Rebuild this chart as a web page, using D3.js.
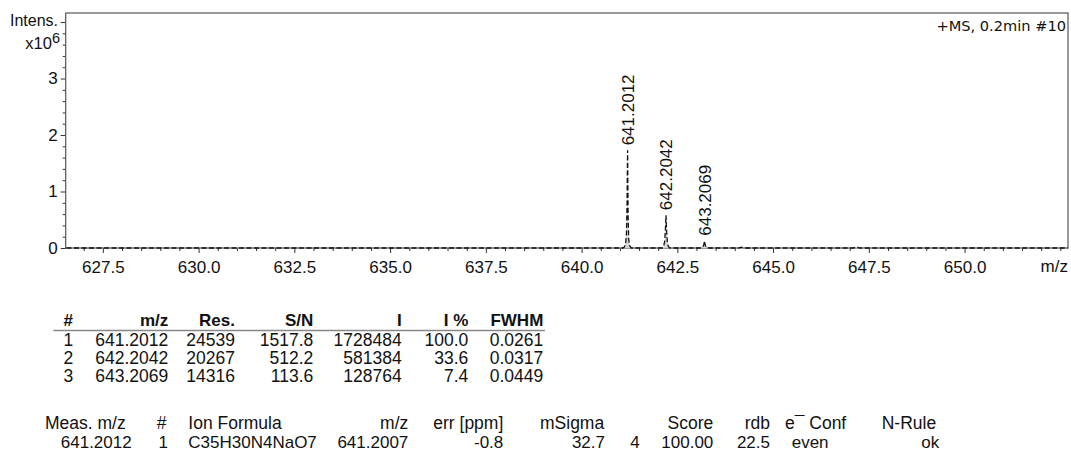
<!DOCTYPE html>
<html>
<head>
<meta charset="utf-8">
<script src="https://cdn.jsdelivr.net/npm/d3@7"></script>
<style>
  html, body { margin: 0; padding: 0; background: #fff; }
  svg { display: block; }
  text { fill: #111; }
</style>
</head>
<body>
<svg id="chart" width="1071" height="452"></svg>
<script>
// Profile trace of the spectrum: m/z and intensity (x10^6)
const traceMz = [626.55, 641.08, 641.12, 641.15, 641.17, 641.185, 641.195, 641.2012, 641.207, 641.215, 641.23, 641.26, 641.30,
                 642.10, 642.14, 642.17, 642.19, 642.2042, 642.22, 642.24, 642.27, 642.31,
                 643.12, 643.17, 643.195, 643.2069, 643.22, 643.25, 643.29,
                 644.10, 644.17, 644.24, 647.10, 647.18, 647.26, 652.70];
const traceInt = [0, 0, 0.02, 0.08, 0.25, 0.7, 1.35, 1.728484, 1.2, 0.55, 0.15, 0.03, 0,
                  0, 0.02, 0.12, 0.35, 0.581384, 0.3, 0.1, 0.02, 0,
                  0, 0.02, 0.07, 0.128764, 0.07, 0.015, 0,
                  0, 0.015, 0, 0, 0.02, 0, 0];

// Labelled peaks
const peakMz = [641.2012, 642.2042, 643.2069];
const peakLabels = ["641.2012", "642.2042", "643.2069"];
const peakIntensity = [1728484, 581384, 128764];
const peakRes = ["24539", "20267", "14316"];
const peakSN = ["1517.8", "512.2", "113.6"];
const peakRelInt = ["100.0", "33.6", "7.4"];
const peakFWHM = ["0.0261", "0.0317", "0.0449"];
const peakTableHeader = ["#", "m/z", "Res.", "S/N", "I", "I %", "FWHM"];

// Axis ticks
const xMajorTicks = [627.5, 630.0, 632.5, 635.0, 637.5, 640.0, 642.5, 645.0, 647.5, 650.0];
const yMajorTicks = [0, 1, 2, 3, 4];
const yTickLabels = ["0", "1", "2", "3", ""];

// Formula table
const formulaHeader = ["Meas. m/z", "#", "Ion Formula", "m/z", "err [ppm]", "mSigma", "", "Score", "rdb", "e\u00AF Conf", "N-Rule"];
const formulaRow = ["641.2012", "1", "C35H30N4NaO7", "641.2007", "-0.8", "32.7", "4", "100.00", "22.5", "even", "ok"];

const svg = d3.select("#chart");
const FONT = "'Liberation Sans', Arial, sans-serif";

const plot = { left: 65.7, right: 1068, top: 13, bottom: 248 };
const x = d3.scaleLinear().domain([626.53, 652.7]).range([plot.left, plot.right]);
const y = d3.scaleLinear().domain([0, 4.16]).range([plot.bottom, plot.top]);

svg.append("rect").attr("width", 1071).attr("height", 452).attr("fill", "#fff");

// Minor ticks
const xMinor = d3.range(627.0, 652.51, 0.5).filter(v => !xMajorTicks.some(m => Math.abs(m - v) < 1e-6));
const yMinor = d3.range(0.2, 4.15, 0.2).filter(v => Math.abs(v - Math.round(v)) > 1e-6);

const gx = svg.append("g").attr("transform", `translate(0,${plot.bottom})`);
gx.append("g").call(d3.axisBottom(x).tickValues(xMinor).tickSize(3).tickFormat(""))
  .call(g => g.select(".domain").remove());
gx.append("g").call(d3.axisBottom(x).tickValues(xMajorTicks).tickSize(5).tickPadding(7.5).tickFormat(d3.format(".1f")))
  .call(g => g.select(".domain").remove())
  .call(g => g.selectAll("text").attr("font-size", 17).attr("font-family", FONT).attr("fill", "#111"));
gx.selectAll("line").attr("stroke", "#333");

const gy = svg.append("g").attr("transform", `translate(${plot.left},0)`);
gy.append("g").call(d3.axisLeft(y).tickValues(yMinor).tickSize(3).tickFormat(""))
  .call(g => g.select(".domain").remove());
gy.append("g").call(d3.axisLeft(y).tickValues(yMajorTicks).tickSize(5).tickPadding(3)
    .tickFormat((d, i) => yTickLabels[i]))
  .call(g => g.select(".domain").remove())
  .call(g => g.selectAll("text").attr("font-size", 17).attr("font-family", FONT).attr("fill", "#111"));
gy.selectAll("line").attr("stroke", "#333");

// Frame
svg.append("rect")
  .attr("x", plot.left).attr("y", plot.top)
  .attr("width", plot.right - plot.left).attr("height", plot.bottom - plot.top)
  .attr("fill", "none").attr("stroke", "#555").attr("stroke-width", 1.2);

// Axis titles
svg.append("text").attr("x", 58).attr("y", 26).attr("text-anchor", "end")
  .attr("font-family", FONT).attr("font-size", 16).text("Intens.");
const xt = svg.append("text").attr("x", 60).attr("y", 49).attr("text-anchor", "end")
  .attr("font-family", FONT).attr("font-size", 16.5);
xt.append("tspan").text("x10");
xt.append("tspan").attr("dy", -6).attr("font-size", 14.5).text("6");
svg.append("text").attr("x", 1068).attr("y", 272).attr("text-anchor", "end")
  .attr("font-family", FONT).attr("font-size", 17).text("m/z");
svg.append("text").attr("x", 1066).attr("y", 31).attr("text-anchor", "end")
  .attr("font-family", "'DejaVu Sans', Verdana, sans-serif").attr("font-size", 14.6)
  .text("+MS, 0.2min #10");

// Spectrum trace
const trace = traceMz.map((m, i) => [m, traceInt[i]]);
svg.append("clipPath").attr("id", "plotclip").append("rect")
  .attr("x", plot.left).attr("y", plot.top).attr("width", plot.right - plot.left).attr("height", plot.bottom - plot.top + 1);
const gTrace = svg.append("g").attr("clip-path", "url(#plotclip)");
gTrace.append("path")
  .datum(trace)
  .attr("d", d3.area().x(d => x(d[0])).y0(y(0)).y1(d => y(d[1])))
  .attr("fill", "#d4d4d4");
gTrace.append("path")
  .datum(trace)
  .attr("d", d3.line().x(d => x(d[0])).y(d => y(d[1])))
  .attr("fill", "none").attr("stroke", "#111").attr("stroke-width", 1.3)
  .attr("stroke-dasharray", "5,2.5");

// Peak labels (rotated)
peakMz.forEach((m, i) => {
  const px = x(m), py = y(peakIntensity[i] / 1e6) - 5;
  svg.append("text")
    .attr("transform", `translate(${px},${py}) rotate(-90)`)
    .attr("dy", "0.36em")
    .attr("font-family", FONT).attr("font-size", 17)
    .text(peakLabels[i]);
});

// Peak table
const t1Right = [null, 168.3, 235, 313.3, 401.7, 468.3, 543.3];
const t1HashX = 68.3;
const t1HeaderY = 326, t1RowY = [346, 364, 382];
peakTableHeader.forEach((h, c) => {
  svg.append("text")
    .attr("x", c === 0 ? t1HashX : t1Right[c]).attr("y", t1HeaderY)
    .attr("text-anchor", c === 0 ? "middle" : "end")
    .attr("font-family", FONT).attr("font-size", 17).attr("font-weight", "bold")
    .text(h);
});
svg.append("line").attr("x1", 53.3).attr("x2", 545).attr("y1", 330.5).attr("y2", 330.5)
  .attr("stroke", "#888").attr("stroke-width", 1.5);
peakMz.forEach((m, r) => {
  const cells = [String(r + 1), peakLabels[r], peakRes[r], peakSN[r], String(peakIntensity[r]), peakRelInt[r], peakFWHM[r]];
  cells.forEach((v, c) => {
    svg.append("text")
      .attr("x", c === 0 ? t1HashX : t1Right[c]).attr("y", t1RowY[r])
      .attr("text-anchor", c === 0 ? "middle" : "end")
      .attr("font-family", FONT).attr("font-size", 17.5)
      .text(v);
  });
});

// Formula table
const t2Head = [
  { x: 45, a: "start" }, { x: 161.7, a: "middle" }, { x: 188.3, a: "start" }, { x: 408.3, a: "end" },
  { x: 503.3, a: "end" }, { x: 540, a: "start" }, null, { x: 713.3, a: "end" }, { x: 770, a: "end" },
  { x: 785, a: "start" }, { x: 881.7, a: "start" }
];
const t2Row = [
  { x: 131.7, a: "end" }, { x: 163.3, a: "middle" }, { x: 188.3, a: "start" }, { x: 408.3, a: "end" },
  { x: 503.3, a: "end" }, { x: 605, a: "end" }, { x: 635, a: "middle" }, { x: 713.3, a: "end" },
  { x: 770, a: "end" }, { x: 791.7, a: "start" }, { x: 939.3, a: "end" }
];
formulaHeader.forEach((h, c) => {
  if (!t2Head[c] || !h) return;
  svg.append("text").attr("x", t2Head[c].x).attr("y", 429).attr("text-anchor", t2Head[c].a)
    .attr("font-family", FONT).attr("font-size", 17.5).text(h);
});
formulaRow.forEach((v, c) => {
  svg.append("text").attr("x", t2Row[c].x).attr("y", 448).attr("text-anchor", t2Row[c].a)
    .attr("font-family", FONT).attr("font-size", 17).text(v);
});
</script>
</body>
</html>
